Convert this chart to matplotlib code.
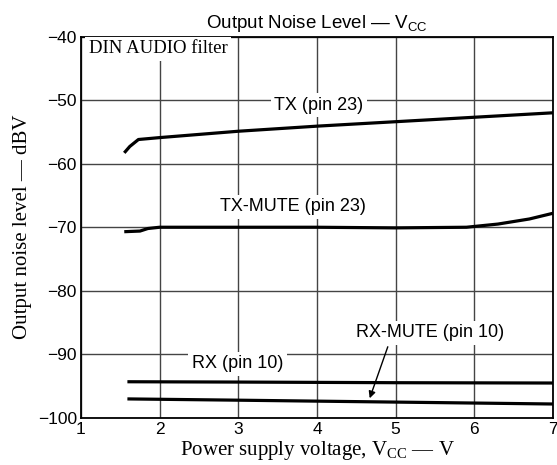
import numpy as np
import matplotlib
matplotlib.use("Agg")
import matplotlib.pyplot as plt

plt.rcParams['font.family'] = ['Liberation Sans', 'DejaVu Sans']
plt.rcParams['mathtext.fontset'] = 'custom'
plt.rcParams['mathtext.rm'] = 'Liberation Serif'
plt.rcParams['mathtext.sf'] = 'Liberation Sans'

# Curves (Vcc in V, level in dBV)
tx_v = [1.55, 1.62, 1.73, 2.0, 3.0, 4.0, 5.0, 6.0, 7.0]
tx_db = [-58.3, -57.3, -56.2, -55.9, -54.9, -54.1, -53.4, -52.7, -52.0]

txmute_v = [1.55, 1.75, 1.85, 2.0, 3.0, 4.0, 5.0, 5.9, 6.3, 6.7, 7.0]
txmute_db = [-70.7, -70.6, -70.2, -70.0, -70.0, -70.0, -70.1, -70.0, -69.5, -68.7, -67.8]

rx_v = [1.59, 3.0, 5.0, 7.0]
rx_db = [-94.3, -94.35, -94.45, -94.5]

rxmute_v = [1.59, 3.0, 5.0, 7.0]
rxmute_db = [-97.0, -97.2, -97.5, -97.8]

x_ticks = [1, 2, 3, 4, 5, 6, 7]
y_ticks = [-100, -90, -80, -70, -60, -50, -40]

fig = plt.figure(figsize=(5.57, 4.65), dpi=100)
ax = fig.add_axes([0.1454, 0.1011, 0.8474, 0.8204])

for v, db in [(tx_v, tx_db), (txmute_v, txmute_db), (rx_v, rx_db), (rxmute_v, rxmute_db)]:
    ax.plot(v, db, color='black', lw=2.3, solid_capstyle='butt', zorder=3)

ax.set_xlim(1, 7)
ax.set_ylim(-100, -40)
ax.set_xticks(x_ticks)
ax.set_yticks(y_ticks)
ax.set_yticklabels(['\u2212%d' % abs(t) for t in y_ticks])
ax.tick_params(length=0, labelsize=12.5, pad=3)
ax.grid(True, color='#444444', lw=1.0)
ax.set_axisbelow(True)
for s in ax.spines.values():
    s.set_linewidth(1.3)

box = dict(facecolor='white', edgecolor='none', pad=2.5)
ax.text(1.1, -40.6, 'DIN AUDIO filter', family='Liberation Serif', fontsize=13.5,
        va='top', ha='left', bbox=box, zorder=4)
ax.text(4.02, -50.8, 'TX (pin 23)', fontsize=13, ha='center', va='center', bbox=box, zorder=4)
ax.text(3.69, -66.8, 'TX-MUTE (pin 23)', fontsize=13, ha='center', va='center', bbox=box, zorder=4)
ax.text(2.99, -91.5, 'RX (pin 10)', fontsize=13, ha='center', va='center', bbox=box, zorder=4)
ax.text(5.44, -86.6, 'RX-MUTE (pin 10)', fontsize=13, ha='center', va='center', bbox=box, zorder=4)
ax.annotate('', xy=(4.67, -96.9), xytext=(4.90, -88.8),
            arrowprops=dict(arrowstyle='-|>', color='black', lw=1.0,
                            mutation_scale=10, shrinkA=0, shrinkB=0), zorder=4)

ax.set_title('Output Noise Level \u2014 V$_{\\mathsf{CC}}$', fontsize=13.5, pad=6)
ax.set_xlabel('Power supply voltage, V$_{\\mathrm{CC}}$ \u2014 V', family='Liberation Serif',
              fontsize=15, labelpad=1)
ax.set_ylabel('Output noise level \u2014 dBV', family='Liberation Serif', fontsize=15, labelpad=4)

fig.savefig('out.png', dpi=100)
